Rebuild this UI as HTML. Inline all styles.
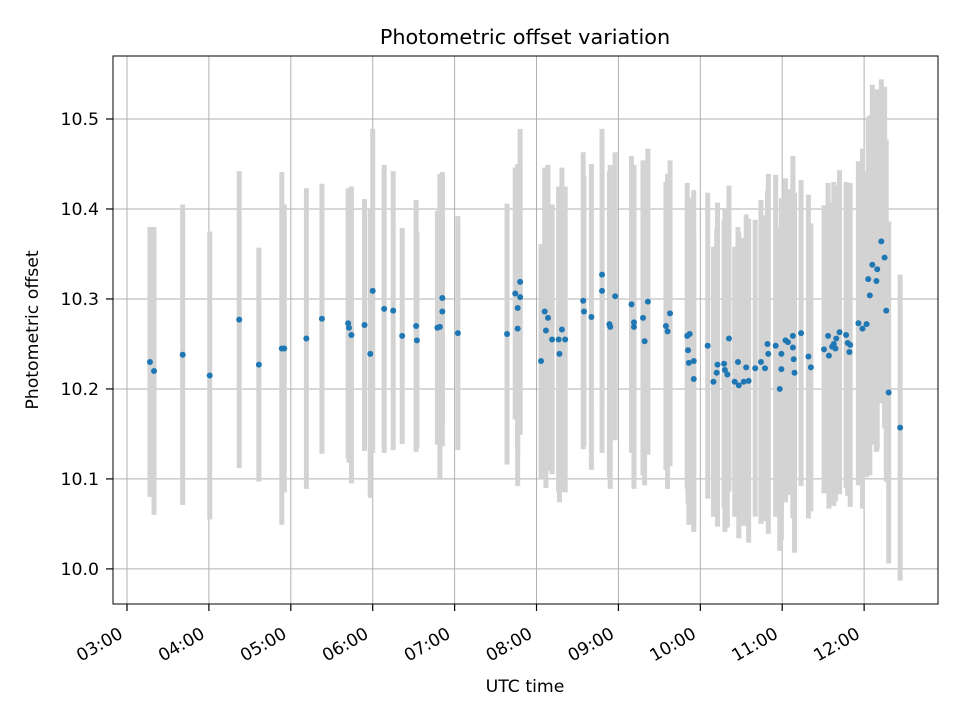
<!DOCTYPE html>
<html><head><meta charset="utf-8"><style>
body{margin:0;background:#fff}
svg text{font-family:"DejaVu Sans","Liberation Sans",sans-serif;fill:#000}
</style></head><body>
<svg id="chart" width="960" height="720">
<rect width="960" height="720" fill="#fff"/>
<g id="grid"></g>
<g id="bars"></g>
<g id="pts"></g>
<rect x="113" y="56" width="825" height="548" fill="none" stroke="#000" stroke-width="1"/>
<g id="axes"></g>
<text x="525" y="44" font-size="20.8" text-anchor="middle">Photometric offset variation</text>
<text x="525" y="692" font-size="17.3" text-anchor="middle">UTC time</text>
<text transform="translate(38,330) rotate(-90)" font-size="17.3" text-anchor="middle">Photometric offset</text>
</svg>
<script>
const times=[3.28,3.33,3.68,4.01,4.37,4.61,4.89,4.92,5.19,5.38,5.70,5.71,5.74,5.90,5.97,6.00,6.14,6.25,6.36,6.53,6.54,6.79,6.82,6.85,6.85,7.04,
7.64,7.74,7.80,7.80,7.77,7.77,8.055,8.10,8.14,8.115,8.19,8.27,8.28,8.31,8.35,8.57,8.58,8.67,8.80,8.80,8.96,8.89,8.90,9.16,9.19,9.19,9.30,9.32,9.36,9.58,9.60,9.63,
9.84,9.87,9.85,9.86,9.92,9.92,10.09,10.16,10.20,10.21,10.29,10.30,10.33,10.35,10.42,10.47,10.53,10.59,10.46,10.56,10.67,10.74,10.79,10.82,10.83,10.92,10.97,10.99,10.99,11.04,11.07,11.13,11.13,11.14,11.15,11.23,11.32,11.35,
11.51,11.56,11.57,11.61,11.63,11.66,11.65,11.70,11.78,11.80,11.83,11.82,11.93,11.98,12.03,12.07,12.05,12.15,12.10,12.16,12.21,12.25,12.27,12.30,12.44];
const values=[10.230,10.220,10.238,10.215,10.277,10.227,10.245,10.245,10.256,10.278,10.273,10.268,10.260,10.271,10.239,10.309,10.289,10.287,10.259,10.270,10.254,10.268,10.269,10.301,10.286,10.262,
10.261,10.306,10.319,10.302,10.290,10.267,10.231,10.286,10.279,10.265,10.255,10.255,10.239,10.266,10.255,10.298,10.286,10.280,10.327,10.309,10.303,10.272,10.269,10.294,10.274,10.269,10.279,10.253,10.297,10.270,10.264,10.284,
10.259,10.261,10.243,10.229,10.231,10.211,10.248,10.208,10.218,10.227,10.228,10.221,10.216,10.256,10.208,10.204,10.208,10.209,10.230,10.224,10.223,10.230,10.223,10.250,10.239,10.248,10.200,10.239,10.222,10.254,10.252,10.259,10.246,10.233,10.218,10.262,10.236,10.224,
10.244,10.259,10.237,10.247,10.250,10.256,10.245,10.263,10.260,10.251,10.249,10.241,10.273,10.267,10.272,10.304,10.322,10.320,10.338,10.333,10.364,10.346,10.287,10.196,10.157];
const errors=[0.150,0.160,0.167,0.160,0.165,0.130,0.196,0.160,0.167,0.150,0.150,0.150,0.165,0.140,0.160,0.180,0.160,0.155,0.120,0.140,0.120,0.130,0.170,0.140,0.150,0.130,
0.145,0.140,0.170,0.150,0.160,0.175,0.130,0.160,0.170,0.175,0.150,0.170,0.165,0.180,0.170,0.165,0.150,0.170,0.150,0.180,0.160,0.170,0.180,0.165,0.170,0.180,0.175,0.160,0.170,0.160,0.175,0.170,
0.170,0.150,0.170,0.180,0.190,0.160,0.170,0.150,0.160,0.180,0.160,0.180,0.170,0.170,0.150,0.170,0.160,0.180,0.150,0.170,0.165,0.180,0.170,0.170,0.200,0.190,0.180,0.170,0.190,0.180,0.170,0.200,0.190,0.160,0.200,0.170,0.180,0.160,
0.160,0.170,0.170,0.160,0.180,0.170,0.170,0.180,0.170,0.170,0.180,0.160,0.180,0.200,0.170,0.200,0.180,0.190,0.200,0.200,0.180,0.190,0.190,0.190,0.170];
const xTicks=[3,4,5,6,7,8,9,10,11,12];
const xTickLabels=["03:00","04:00","05:00","06:00","07:00","08:00","09:00","10:00","11:00","12:00"];
const yTicks=[10.0,10.1,10.2,10.3,10.4,10.5];
const yTickLabels=["10.0","10.1","10.2","10.3","10.4","10.5"];

const NS="http://www.w3.org/2000/svg";
const X0=113,X1=938,Y0=56,Y1=604;
const xMin=2.829,xMax=12.902,yMin=9.961,yMax=10.570;
function sx(h){return X0+(h-xMin)/(xMax-xMin)*(X1-X0);}
function sy(v){return Y1-(v-yMin)/(yMax-yMin)*(Y1-Y0);}
function mk(tag,attrs,parent){const e=document.createElementNS(NS,tag);for(const k in attrs)e.setAttribute(k,attrs[k]);parent.appendChild(e);return e;}
const grid=document.getElementById('grid'),axes=document.getElementById('axes'),bars=document.getElementById('bars'),pts=document.getElementById('pts');
xTicks.forEach((t,i)=>{
  const x=sx(t);
  const g=mk('line',{x1:x,x2:x,y1:Y0,y2:Y1,stroke:'#b0b0b0','stroke-width':1},grid);
  
  
  const tk=mk('line',{x1:x,x2:x,y1:Y1,y2:Y1+7,stroke:'#000','stroke-width':1.2},axes);
  
  
  const tx=mk('text',{transform:`translate(${x-3},${Y1+33}) rotate(-30)`,'font-size':17.3,'text-anchor':'end'},axes);
  tx.textContent=xTickLabels[i];
  
  
});
yTicks.forEach((t,i)=>{
  const y=sy(t);
  const g=mk('line',{x1:X0,x2:X1,y1:y,y2:y,stroke:'#b0b0b0','stroke-width':1},grid);
  
  
  const tk=mk('line',{x1:X0-7,x2:X0,y1:y,y2:y,stroke:'#000','stroke-width':1.2},axes);
  
  
  const tx=mk('text',{x:X0-14,y:y+6,'font-size':17.3,'text-anchor':'end'},axes);
  tx.textContent=yTickLabels[i];
  
  
});
times.forEach((t,i)=>{
  const x=sx(t);
  const b=mk('line',{x1:x,x2:x,y1:sy(values[i]+errors[i]),y2:sy(values[i]-errors[i]),stroke:'#d3d3d3','stroke-width':5},bars);
  
  
  const c=mk('circle',{cx:x,cy:sy(values[i]),r:3,fill:'#1f77b4'},pts);
  
  
});
</script>
</body></html>
